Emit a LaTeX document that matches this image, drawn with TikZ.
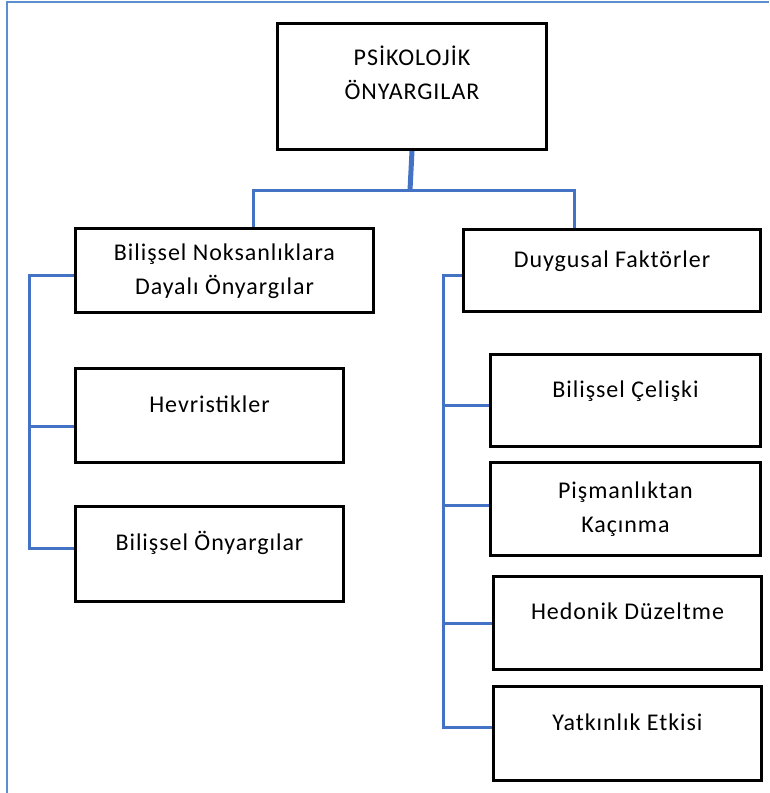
\documentclass[tikz,border=0pt]{standalone}
\usepackage{fontspec}
\setmainfont{Carlito}[LetterSpace=4]
\usepackage{tikz}
\definecolor{bagmavi}{HTML}{4472C4}
\definecolor{cercevemavi}{HTML}{5B8FD0}

\begin{document}
\begin{tikzpicture}[
        x=1pt, y=-1pt,
        kutu/.style={draw=black, line width=3pt, align=center,
            font=\fontsize{24}{34}\selectfont, text height=18pt, text depth=25pt},
        ikisatir/.style={text height=55pt, text depth=8pt},
        bag/.style={draw=bagmavi, line width=3pt},
        kalinbag/.style={draw=bagmavi, line width=5pt},
        cerceve/.style={draw=cercevemavi, line width=2pt}
    ]
        \useasboundingbox (0, 0) rectangle (769, 793);
        \draw[cerceve] (7, 793) -- (7, 2) -- (769, 2);

        \node (psikoloji) at (412, 86.5) [
            kutu,
            minimum width=269pt,
            minimum height=126pt,
            text height=34pt,
            text depth=8pt
        ] {PSİKOLOJİK\\ÖNYARGILAR};

        \path (psikoloji) + (-187.5, 184) node[kutu, ikisatir, minimum width=298pt, minimum height=84pt] (noksan) {Bilişsel Noksanlıklara\\Dayalı Önyargılar};
        \path (psikoloji) + (200, 184) node[kutu, minimum width=297pt, minimum height=82pt] (duygusal) {Duygusal Faktörler};

        \path (noksan) + (-15, 145) node[kutu, minimum width=268pt, minimum height=94pt] (hevristik) {Hevristikler};
        \path (hevristik) + (0, 138.5) node[kutu, minimum width=268pt, minimum height=95pt] (bilonyargi) {Bilişsel Önyargılar};

        \path (duygusal) + (13.5, 130) node[kutu, minimum width=270pt, minimum height=92pt] (celiski) {Bilişsel Çelişki};
        \path (celiski) + (0, 108.5) node[kutu, ikisatir, minimum width=270pt, minimum height=93pt] (pisman) {Pişmanlıktan\\Kaçınma};
        \path (pisman) + (2, 114) node[kutu, minimum width=268pt, minimum height=93pt] (hedonik) {Hedonik Düzeltme};
        \path (hedonik) + (0, 110.5) node[kutu, minimum width=268pt, minimum height=94pt] (yatkinlik) {Yatkınlık Etkisi};

        % ust dallanma
        \coordinate (catal) at (410, 190);
        \draw[kalinbag] (psikoloji.south) -- (catal);
        \draw[bag] ([xshift=28.5pt]noksan.north) |- (catal) -| ([xshift=-38pt]duygusal.north);

        % sol kol
        \coordinate (solust) at (29, 275);
        \coordinate (h1) at ([yshift=-10.5pt]hevristik.west);
        \coordinate (h2) at ([yshift=6pt]bilonyargi.west);
        \draw[bag] ([yshift=-4.5pt]noksan.west) -- (solust) |- (h2);
        \draw[bag] (solust |- h1) -- (h1);

        % sag kol
        \coordinate (sagust) at (443, 275);
        \coordinate (d1) at ([yshift=-4.5pt]celiski.west);
        \coordinate (d2) at ([yshift=4pt]pisman.west);
        \coordinate (d3) at (hedonik.west);
        \coordinate (d4) at ([yshift=6.5pt]yatkinlik.west);
        \draw[bag] ([yshift=-4.5pt]duygusal.west) -- (sagust) |- (d4);
        \draw[bag] (sagust |- d1) -- (d1);
        \draw[bag] (sagust |- d2) -- (d2);
        \draw[bag] (sagust |- d3) -- (d3);
\end{tikzpicture}
\end{document}
